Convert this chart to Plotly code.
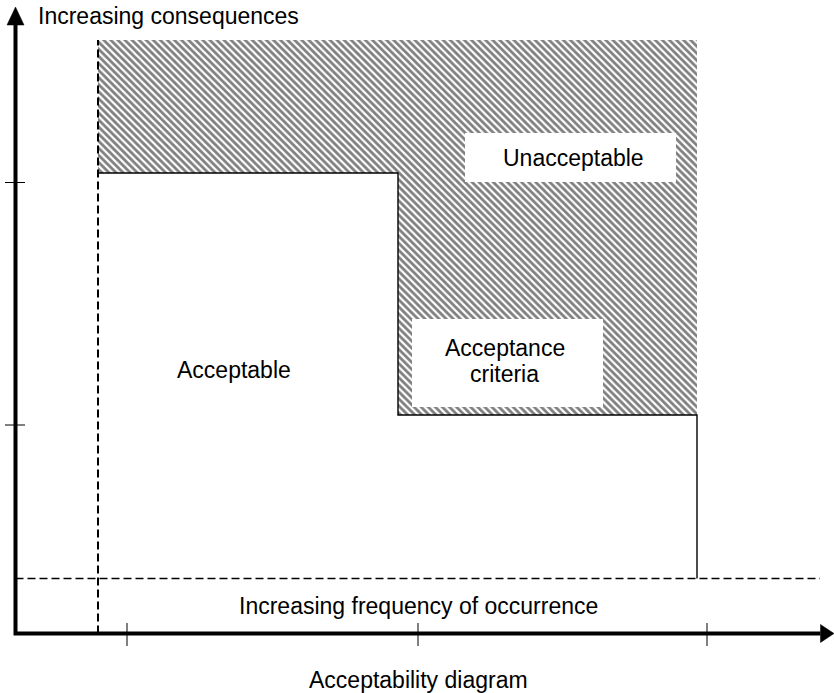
import plotly.graph_objects as go

# ---- diagram data (units: diagram units, origin at the axes corner) ----
freq_ticks = [111.5, 402.5, 691.5]          # tick marks on the frequency axis
cons_ticks = [208.5, 451.0]                 # tick marks on the consequence axis
axis_x_end = 818.5                          # tip of frequency axis arrow
axis_y_end = 626.5                          # tip of consequence axis arrow

# criterion boundary (step curve) of the unacceptable region
region_x = [82.5, 382.5, 681.5]             # left, step, right
region_y = [593.5, 460.5, 218.5]            # top, upper step, lower step
threshold_y = 55.0                          # dashed frequency threshold line
threshold_x_end = 804.5

# label boxes [x0, x1, y0, y1]
box_unacceptable = [449.5, 660.5, 451.5, 500.5]
box_criteria = [396.5, 587.5, 226.5, 314.5]

label_texts = ["Increasing consequences", "Unacceptable", "Acceptance", "criteria",
               "Acceptable", "Increasing frequency of occurrence", "Acceptability diagram"]
label_x = [20.0, 557.5, 489.0, 489.0, 218.5, 402.5, 402.5]
label_y = [617.5, 476.0, 286.0, 259.5, 263.5, 27.5, -46.0]
label_anchor = ["left", "center", "center", "center", "center", "center", "center"]

FONT = "Liberation Sans, Arial, sans-serif"
head_len, head_half = 13.5, 9.0

fig = go.Figure()

L, S, R = region_x
T, B1, B2 = region_y

# hatched unacceptable region
fig.add_trace(go.Scatter(
    x=[L, R, R, S, S, L, L], y=[T, T, B2, B2, B1, B1, T],
    mode="lines", fill="toself", line=dict(width=0, color="rgba(0,0,0,0)"),
    fillcolor="white",
    fillpattern=dict(shape="\\", size=5, solidity=0.55, fgcolor="#000000", bgcolor="white"),
    hoverinfo="skip", showlegend=False))

# step outline
fig.add_trace(go.Scatter(
    x=[L, S, S, R, R], y=[B1, B1, B2, B2, threshold_y],
    mode="lines", line=dict(color="black", width=1.4),
    hoverinfo="skip", showlegend=False))

# dashed lines
fig.add_trace(go.Scatter(
    x=[L, L], y=[0, T], mode="lines",
    line=dict(color="black", width=2, dash="8px,4px"),
    hoverinfo="skip", showlegend=False))
fig.add_trace(go.Scatter(
    x=[0, threshold_x_end], y=[threshold_y, threshold_y], mode="lines",
    line=dict(color="black", width=1.5, dash="8px,4px"),
    hoverinfo="skip", showlegend=False))

# axes
fig.add_trace(go.Scatter(
    x=[0, 0, axis_x_end - head_len], y=[axis_y_end - head_len - 4, 0, 0],
    mode="lines", line=dict(color="black", width=4),
    hoverinfo="skip", showlegend=False))
fig.add_trace(go.Scatter(
    x=[axis_x_end - head_len, axis_x_end, axis_x_end - head_len, axis_x_end - head_len],
    y=[head_half, 0, -head_half, head_half],
    mode="lines", fill="toself", fillcolor="black", line=dict(color="black", width=0.5),
    hoverinfo="skip", showlegend=False))
fig.add_trace(go.Scatter(
    x=[-8.5, 0, 8.5, -8.5],
    y=[axis_y_end - 18, axis_y_end, axis_y_end - 18, axis_y_end - 18],
    mode="lines", fill="toself", fillcolor="black", line=dict(color="black", width=0.5),
    hoverinfo="skip", showlegend=False))

# tick marks
tx, ty = [], []
for v in freq_ticks:
    tx += [v, v, None]
    ty += [10.5, -12.5, None]
for v in cons_ticks:
    tx += [-10.5, 9.5, None]
    ty += [v, v, None]
fig.add_trace(go.Scatter(x=tx, y=ty, mode="lines", line=dict(color="black", width=1),
                         hoverinfo="skip", showlegend=False))

# white label boxes
for b in (box_unacceptable, box_criteria):
    fig.add_shape(type="rect", x0=b[0], x1=b[1], y0=b[2], y1=b[3],
                  fillcolor="white", line=dict(width=0), layer="above")

for text, x, y, anchor in zip(label_texts, label_x, label_y, label_anchor):
    fig.add_annotation(x=x, y=y, text=text, showarrow=False, xanchor=anchor, yanchor="middle",
                       font=dict(family=FONT, size=23, color="black"))

fig.update_layout(
    width=834, height=693, margin=dict(l=0, r=0, t=0, b=0),
    paper_bgcolor="white", plot_bgcolor="white",
    xaxis=dict(range=[-15.5, 818.5], visible=False, fixedrange=True),
    yaxis=dict(range=[-59.5, 633.5], visible=False, fixedrange=True),
    showlegend=False,
)

fig.write_html(
    "out.html",
    config={"displayModeBar": False},
    post_script="document.body.style.margin='0';document.body.style.overflow='hidden';",
)
